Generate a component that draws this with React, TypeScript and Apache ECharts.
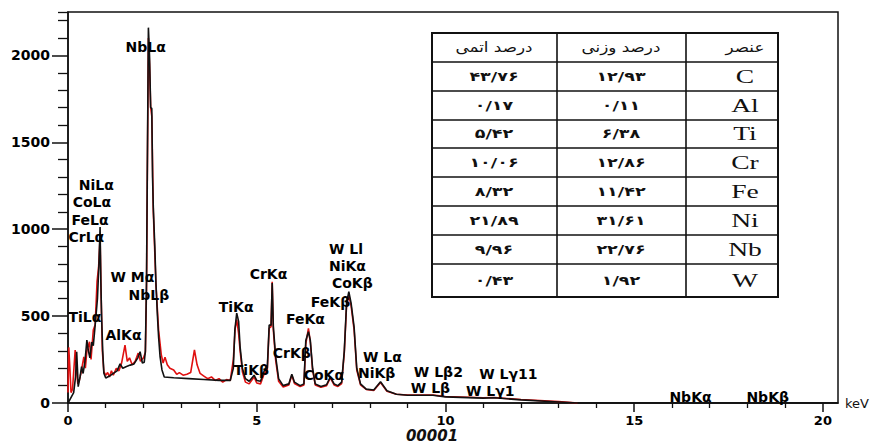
import React, { useEffect, useRef } from 'react';
import * as echarts from 'echarts';

// ---- spectrum data (keV, counts) ----
const blackKeV = [0.0, 0.05, 0.1, 0.15, 0.2, 0.23, 0.25, 0.27, 0.32, 0.36, 0.4, 0.45, 0.5, 0.54, 0.58, 0.63, 0.67, 0.72, 0.78, 0.82, 0.85, 0.87, 0.89, 0.92, 0.95, 1.0, 1.1, 1.2, 1.3, 1.38, 1.45, 1.55, 1.65, 1.75, 1.85, 1.91, 1.97, 2.02, 2.05, 2.08, 2.1, 2.13, 2.16, 2.19, 2.22, 2.24, 2.26, 2.3, 2.33, 2.37, 2.4, 2.44, 2.49, 2.55, 2.8, 3.2, 3.6, 4.0, 4.3, 4.38, 4.42, 4.47, 4.52, 4.56, 4.62, 4.7, 4.8, 4.93, 5.0, 5.1, 5.2, 5.28, 5.33, 5.38, 5.41, 5.44, 5.5, 5.58, 5.7, 5.85, 5.93, 6.0, 6.15, 6.25, 6.3, 6.37, 6.42, 6.48, 6.55, 6.7, 6.85, 6.95, 7.05, 7.15, 7.25, 7.32, 7.38, 7.44, 7.5, 7.58, 7.65, 7.75, 7.9, 8.1, 8.28, 8.45, 8.7, 9.0, 9.67, 10.0, 11.0, 11.3, 12.0, 13.0, 13.5, 20.4];
const blackCounts = [0, 20, 40, 60, 150, 295, 200, 94, 150, 209, 170, 240, 362, 300, 260, 350, 330, 448, 600, 800, 1013, 700, 496, 300, 172, 144, 155, 170, 185, 225, 200, 210, 218, 225, 260, 295, 230, 235, 300, 700, 1300, 2160, 2000, 1700, 1695, 1300, 1126, 900, 690, 500, 380, 265, 190, 150, 145, 140, 135, 130, 130, 200, 420, 517, 470, 322, 200, 140, 125, 160, 130, 125, 185, 200, 448, 448, 690, 440, 270, 140, 100, 110, 165, 120, 100, 110, 360, 410, 360, 200, 110, 95, 105, 150, 110, 100, 120, 300, 575, 640, 575, 437, 200, 110, 80, 75, 122, 70, 50, 45, 45, 35, 28, 30, 18, 6, 0, 0];

const redKeV = [0.0, 0.02, 0.05, 0.08, 0.12, 0.19, 0.22, 0.26, 0.3, 0.35, 0.42, 0.46, 0.5, 0.57, 0.61, 0.67, 0.72, 0.77, 0.81, 0.85, 0.88, 0.91, 0.95, 1.0, 1.05, 1.1, 1.15, 1.2, 1.28, 1.35, 1.42, 1.51, 1.57, 1.63, 1.7, 1.78, 1.86, 1.92, 2.0, 2.05, 2.08, 2.1, 2.13, 2.16, 2.19, 2.22, 2.26, 2.33, 2.4, 2.47, 2.52, 2.57, 2.63, 2.7, 2.8, 2.88, 2.95, 3.05, 3.15, 3.25, 3.35, 3.42, 3.5, 3.6, 3.7, 3.8, 3.9, 4.0, 4.1, 4.2, 4.3, 4.38, 4.43, 4.47, 4.52, 4.56, 4.62, 4.7, 4.8, 4.93, 5.0, 5.1, 5.2, 5.28, 5.33, 5.38, 5.41, 5.44, 5.5, 5.58, 5.7, 5.85, 5.93, 6.0, 6.15, 6.25, 6.3, 6.37, 6.42, 6.48, 6.55, 6.7, 6.85, 6.95, 7.05, 7.15, 7.25, 7.32, 7.38, 7.44, 7.5, 7.58, 7.65, 7.75, 7.9, 8.1, 8.28, 8.45, 8.7, 9.0, 9.67, 10.0, 11.0, 11.3, 12.0, 13.0, 13.5];
const redCounts = [60, 320, 200, 60, 80, 305, 200, 110, 130, 180, 266, 200, 300, 352, 250, 420, 450, 700, 780, 950, 600, 300, 180, 160, 175, 150, 185, 160, 200, 185, 230, 333, 240, 260, 220, 240, 287, 240, 260, 290, 650, 1250, 2100, 1950, 1700, 1650, 1100, 680, 420, 280, 230, 264, 220, 200, 190, 165, 175, 160, 165, 175, 305, 220, 170, 155, 140, 150, 130, 140, 120, 135, 130, 250, 430, 480, 400, 300, 180, 120, 110, 150, 115, 110, 170, 190, 430, 440, 697, 420, 250, 125, 92, 104, 160, 112, 95, 104, 340, 430, 350, 190, 104, 90, 100, 145, 104, 95, 112, 290, 560, 620, 560, 420, 190, 104, 78, 72, 118, 68, 50, 46, 46, 37, 30, 31, 20, 8, 0];

// ---- axis ticks ----
const xMajorTicks = [0, 5, 10, 15, 20];
const xMinorTicks = [1, 2, 3, 4, 6, 7, 8, 9, 11, 12, 13, 14, 16, 17, 18, 19];
const yMajorTicks = [0, 500, 1000, 1500, 2000];
const yMinorTicks = [100, 200, 300, 400, 600, 700, 800, 900, 1100, 1200, 1300, 1400, 1600, 1700, 1800, 1900, 2100, 2200, 2250];

// ---- peak annotations (text, anchor keV, anchor counts) ----
const peakNames = ['NbLα', 'NiLα', 'CoLα', 'FeLα', 'CrLα', 'W Mα', 'NbLβ', 'TiLα', 'AlKα', 'TiKα', 'CrKα', 'TiKβ', 'CrKβ', 'FeKα', 'FeKβ', 'W Ll', 'NiKα', 'CoKβ', 'CoKα', 'W Lα', 'NiKβ', 'W Lβ2', 'W Lβ', 'W Lγ11', 'W Lγ1', 'NbKα', 'NbKβ'];
const peakKeV = [1.51, 0.27, 0.11, 0.08, 0.0, 1.11, 1.59, 0.0, 0.98, 3.98, 4.8, 4.38, 5.41, 5.76, 6.42, 6.9, 6.9, 6.98, 6.23, 7.8, 7.67, 9.15, 9.07, 10.88, 10.53, 15.92, 17.96];
const peakCounts = [2048, 1253, 1155, 1052, 954, 724, 624, 494, 391, 552, 741, 190, 287, 483, 580, 886, 787, 690, 161, 264, 172, 178, 86, 167, 69, 34, 34];

// ---- composition table ----
const tableHeader = ['درصد اتمی', 'درصد وزنی', 'عنصر'];
const elements = ['C', 'Al', 'Ti', 'Cr', 'Fe', 'Ni', 'Nb', 'W'];
const weightPercent = ['۱۲/۹۳', '۰/۱۱', '۶/۳۸', '۱۲/۸۶', '۱۱/۴۲', '۳۱/۶۱', '۲۲/۷۶', '۱/۹۲'];
const atomicPercent = ['۴۳/۷۶', '۰/۱۷', '۵/۴۲', '۱۰/۰۶', '۸/۳۲', '۲۱/۸۹', '۹/۹۶', '۰/۴۳'];

const sampleTitle = '00001';

export default function App() {
  const ref = useRef<HTMLDivElement>(null);

  useEffect(() => {
    if (!ref.current) return;
    const chart = echarts.init(ref.current, undefined, { renderer: 'svg' });

    const colX = [432, 557, 686, 778];
    const rowY = [33, 62, 91, 120, 148, 177, 206, 235, 264, 297];
    const colCenter = [494, 621, 745];
    const graphics: any[] = [];
    graphics.push({
      type: 'rect',
      shape: { x: colX[0], y: rowY[0], width: colX[3] - colX[0], height: rowY[rowY.length - 1] - rowY[0] },
      style: { fill: '#fff', stroke: '#111', lineWidth: 2 },
      z: 10,
    });
    [colX[1], colX[2]].forEach((x) =>
      graphics.push({
        type: 'line',
        shape: { x1: x, y1: rowY[0], x2: x, y2: rowY[rowY.length - 1] },
        style: { stroke: '#111', lineWidth: 1.6 },
        z: 11,
      })
    );
    rowY.slice(1, -1).forEach((y) =>
      graphics.push({
        type: 'line',
        shape: { x1: colX[0], y1: y, x2: colX[3], y2: y },
        style: { stroke: '#111', lineWidth: 1.6 },
        z: 11,
      })
    );
    const addText = (text: string, cx: number, cy: number, font: string, scaleX: number) => {
      graphics.push({
        type: 'text',
        x: cx,
        y: cy,
        scaleX,
        z: 12,
        style: {
          text,
          x: 0,
          y: 0,
          font,
          fill: '#111',
          align: 'center',
          verticalAlign: 'middle',
          textAlign: 'center',
          textVerticalAlign: 'middle',
        },
      });
    };
    tableHeader.forEach((h, i) =>
      addText(h, colCenter[i], (rowY[0] + rowY[1]) / 2, '14px "DejaVu Sans"', 1.2)
    );
    elements.forEach((el, r) => {
      const cy = (rowY[r + 1] + rowY[r + 2]) / 2;
      addText(atomicPercent[r], colCenter[0], cy, 'bold 13px "DejaVu Sans"', 1.35);
      addText(weightPercent[r], colCenter[1], cy, 'bold 13px "DejaVu Sans"', 1.35);
      addText(el, colCenter[2], cy, '19px "Liberation Serif"', 1.45);
    });
    graphics.push({
      type: 'text',
      x: 432,
      y: 443,
      z: 12,
      style: {
        text: sampleTitle,
        font: 'italic bold 15px "DejaVu Sans"',
        fill: '#111',
        align: 'center',
        verticalAlign: 'bottom',
        textAlign: 'center',
        textVerticalAlign: 'bottom',
      },
    });

    const axisColor = '#111';
    const labelFont = { fontFamily: 'DejaVu Sans', fontWeight: 'bold' as const, color: '#000' };

    chart.setOption({
      animation: false,
      backgroundColor: '#fff',
      grid: { left: 68, right: 38, top: 12, bottom: 40, show: true, borderColor: axisColor, borderWidth: 1.5, backgroundColor: 'transparent' },
      xAxis: [
        {
          type: 'value',
          min: 0,
          max: 20.4,
          position: 'bottom',
          axisLine: { onZero: false, lineStyle: { color: axisColor, width: 1.5 } },
          axisTick: { show: true, customValues: xMajorTicks, length: 9, lineStyle: { color: axisColor, width: 1.5 } },
          axisLabel: { customValues: xMajorTicks, margin: 11, fontSize: 13, lineHeight: 13, formatter: (v: number) => String(v), ...labelFont },
          splitLine: { show: false },
          name: 'keV',
          nameLocation: 'end',
          nameGap: 7,
          nameTextStyle: { fontFamily: 'DejaVu Sans', fontSize: 13, color: '#111', verticalAlign: 'middle' },
        },
        {
          type: 'value',
          min: 0,
          max: 20.4,
          position: 'bottom',
          axisLine: { show: false, onZero: false },
          axisTick: { show: true, customValues: xMinorTicks, length: 5, lineStyle: { color: axisColor, width: 1.3 } },
          axisLabel: { show: false },
          splitLine: { show: false },
        },
      ],
      yAxis: [
        {
          type: 'value',
          min: 0,
          max: 2250,
          position: 'left',
          axisLine: { show: true, onZero: false, lineStyle: { color: axisColor, width: 1.5 } },
          axisTick: { show: true, customValues: yMajorTicks, length: 16, lineStyle: { color: axisColor, width: 1.5 } },
          axisLabel: { customValues: yMajorTicks, margin: 18, fontSize: 14, formatter: (v: number) => String(v), ...labelFont },
          splitLine: { show: false },
        },
        {
          type: 'value',
          min: 0,
          max: 2250,
          position: 'left',
          axisLine: { show: false, onZero: false },
          axisTick: { show: true, customValues: yMinorTicks, length: 10, lineStyle: { color: axisColor, width: 1.3 } },
          axisLabel: { show: false },
          splitLine: { show: false },
        },
      ],
      series: [
        {
          type: 'line',
          name: 'red',
          xAxisIndex: 0,
          yAxisIndex: 0,
          data: redKeV.map((k, i) => [k, redCounts[i]]),
          showSymbol: false,
          symbol: 'none',
          lineStyle: { color: '#e01010', width: 1.6 },
          z: 3,
        },
        {
          type: 'line',
          name: 'black',
          xAxisIndex: 0,
          yAxisIndex: 0,
          data: blackKeV.map((k, i) => [k, blackCounts[i]]),
          showSymbol: false,
          symbol: 'none',
          lineStyle: { color: '#111', width: 1.6 },
          z: 4,
        },
        {
          type: 'scatter',
          name: 'peaks',
          xAxisIndex: 0,
          yAxisIndex: 0,
          clip: false,
          silent: true,
          symbolSize: 1,
          itemStyle: { color: 'rgba(0,0,0,0)' },
          data: peakNames.map((n, i) => ({ name: n, value: [peakKeV[i], peakCounts[i]] })),
          label: {
            show: true,
            position: 'right',
            distance: 0,
            formatter: '{b}',
            fontSize: 14,
            opacity: 1,
            ...labelFont,
          },
          z: 6,
        },
      ],
      graphic: graphics,
    });

    return () => chart.dispose();
  }, []);

  return <div ref={ref} style={{ position: 'fixed', left: 0, top: 0, width: 876, height: 443 }} />;
}
